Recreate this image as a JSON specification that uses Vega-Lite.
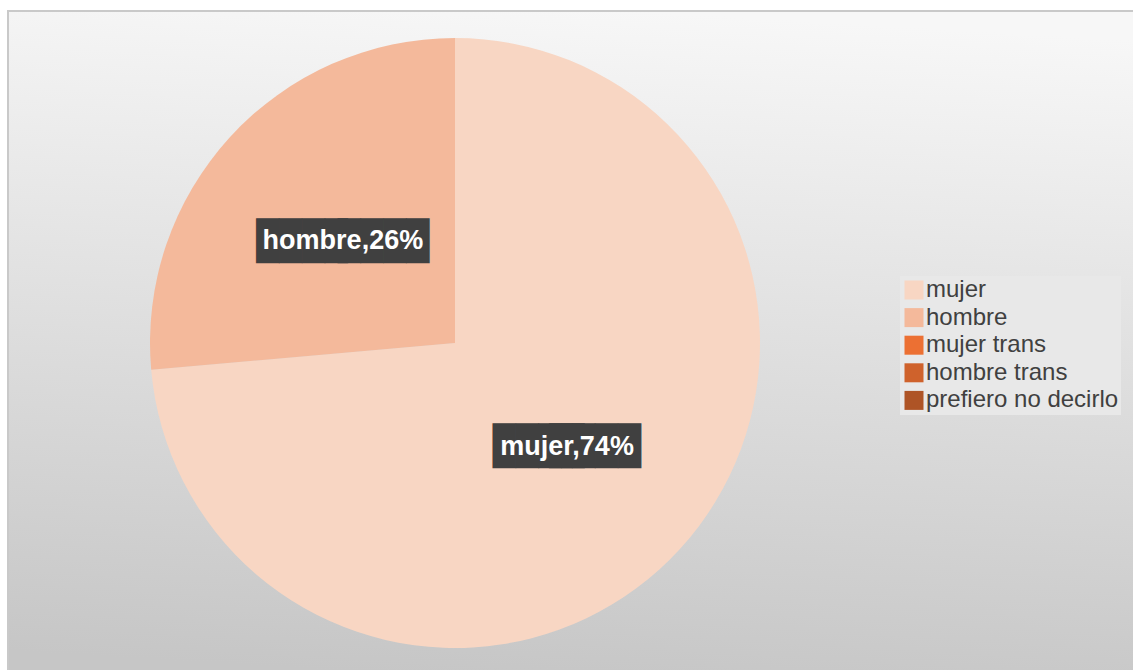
{
  "$schema": "https://vega.github.io/schema/vega-lite/v6.json",
  "width": 1140,
  "height": 670,
  "autosize": {"type": "none"},
  "padding": {"left": 8, "top": 11, "right": 0, "bottom": 0},
  "background": "white",
  "config": {"view": {"stroke": null}},
  "data": {
    "values": [
      {"cat": "mujer", "value": 73.6, "label": "mujer,74%"},
      {"cat": "hombre", "value": 26.4, "label": "hombre,26%"},
      {"cat": "mujer trans", "value": 0, "label": ""},
      {"cat": "hombre trans", "value": 0, "label": ""},
      {"cat": "prefiero no decirlo", "value": 0, "label": ""}
    ]
  },
  "layer": [
    {
      "data": {"values": [{}]},
      "mark": {
        "type": "rect",
        "fill": {"gradient": "linear", "x1": 0.55, "y1": 0, "x2": 0.45, "y2": 1,
          "stops": [{"offset": 0, "color": "#f7f7f7"}, {"offset": 1, "color": "#c6c6c6"}]},
        "stroke": "#c9c9c9",
        "strokeWidth": 2
      },
      "encoding": {}
    },
    {
      "mark": {"type": "arc", "x": 447, "y": 332, "radius": 305},
      "encoding": {
        "theta": {"field": "value", "type": "quantitative", "stack": true},
        "order": {"field": "value", "type": "quantitative", "sort": "descending"},
        "color": {
          "field": "cat", "type": "nominal",
          "sort": ["mujer", "hombre", "mujer trans", "hombre trans", "prefiero no decirlo"],
          "scale": {
            "domain": ["mujer", "hombre", "mujer trans", "hombre trans", "prefiero no decirlo"],
            "range": ["#F8D6C3", "#F4B99B", "#EC7033", "#CF622C", "#AE5426"]
          },
          "legend": {
            "title": null, "orient": "none", "legendX": 892, "legendY": 265,
            "fillColor": "#e8e8e8", "padding": 2,
            "symbolType": "square", "symbolSize": 361, "symbolStrokeWidth": 0,
            "labelFont": "Liberation Sans", "labelFontSize": 24, "labelColor": "#404040",
            "labelOffset": 0, "rowPadding": 3.6, "labelLimit": 400
          }
        }
      }
    },
    {
      "mark": {"type": "text", "x": 447, "y": 332, "font": "DejaVu Sans Mono", "fontSize": 38, "color": "#404040", "align": "left", "baseline": "middle", "dx": -86.5, "dy": 2.5},
      "encoding": {
        "theta": {"field": "value", "type": "quantitative", "stack": true},
        "order": {"field": "value", "type": "quantitative", "sort": "descending"},
        "radius": {"value": 152},
        "text": {"condition": {"test": "datum.cat === 'hombre'", "value": "████"}, "value": ""}
      }
    },
    {
      "mark": {"type": "text", "x": 447, "y": 332, "font": "DejaVu Sans Mono", "fontSize": 38, "color": "#404040", "align": "right", "baseline": "middle", "dx": 86.5, "dy": 2.5},
      "encoding": {
        "theta": {"field": "value", "type": "quantitative", "stack": true},
        "order": {"field": "value", "type": "quantitative", "sort": "descending"},
        "radius": {"value": 152},
        "text": {"condition": {"test": "datum.cat === 'hombre'", "value": "████"}, "value": ""}
      }
    },
    {
      "mark": {"type": "text", "x": 447, "y": 332, "font": "DejaVu Sans Mono", "fontSize": 38, "color": "#404040", "align": "left", "baseline": "middle", "dx": -74, "dy": 2.5},
      "encoding": {
        "theta": {"field": "value", "type": "quantitative", "stack": true},
        "order": {"field": "value", "type": "quantitative", "sort": "descending"},
        "radius": {"value": 152},
        "text": {"condition": {"test": "datum.cat === 'mujer'", "value": "████"}, "value": ""}
      }
    },
    {
      "mark": {"type": "text", "x": 447, "y": 332, "font": "DejaVu Sans Mono", "fontSize": 38, "color": "#404040", "align": "right", "baseline": "middle", "dx": 74, "dy": 2.5},
      "encoding": {
        "theta": {"field": "value", "type": "quantitative", "stack": true},
        "order": {"field": "value", "type": "quantitative", "sort": "descending"},
        "radius": {"value": 152},
        "text": {"condition": {"test": "datum.cat === 'mujer'", "value": "████"}, "value": ""}
      }
    },
    {
      "mark": {"type": "text", "x": 447, "y": 332, "font": "Liberation Sans", "fontWeight": "bold", "fontSize": 27, "color": "white", "align": "center", "baseline": "middle", "dy": 1},
      "encoding": {
        "theta": {"field": "value", "type": "quantitative", "stack": true},
        "order": {"field": "value", "type": "quantitative", "sort": "descending"},
        "radius": {"value": 152},
        "text": {"condition": {"test": "datum.value > 0", "field": "label"}, "value": ""}
      }
    }
  ]
}
